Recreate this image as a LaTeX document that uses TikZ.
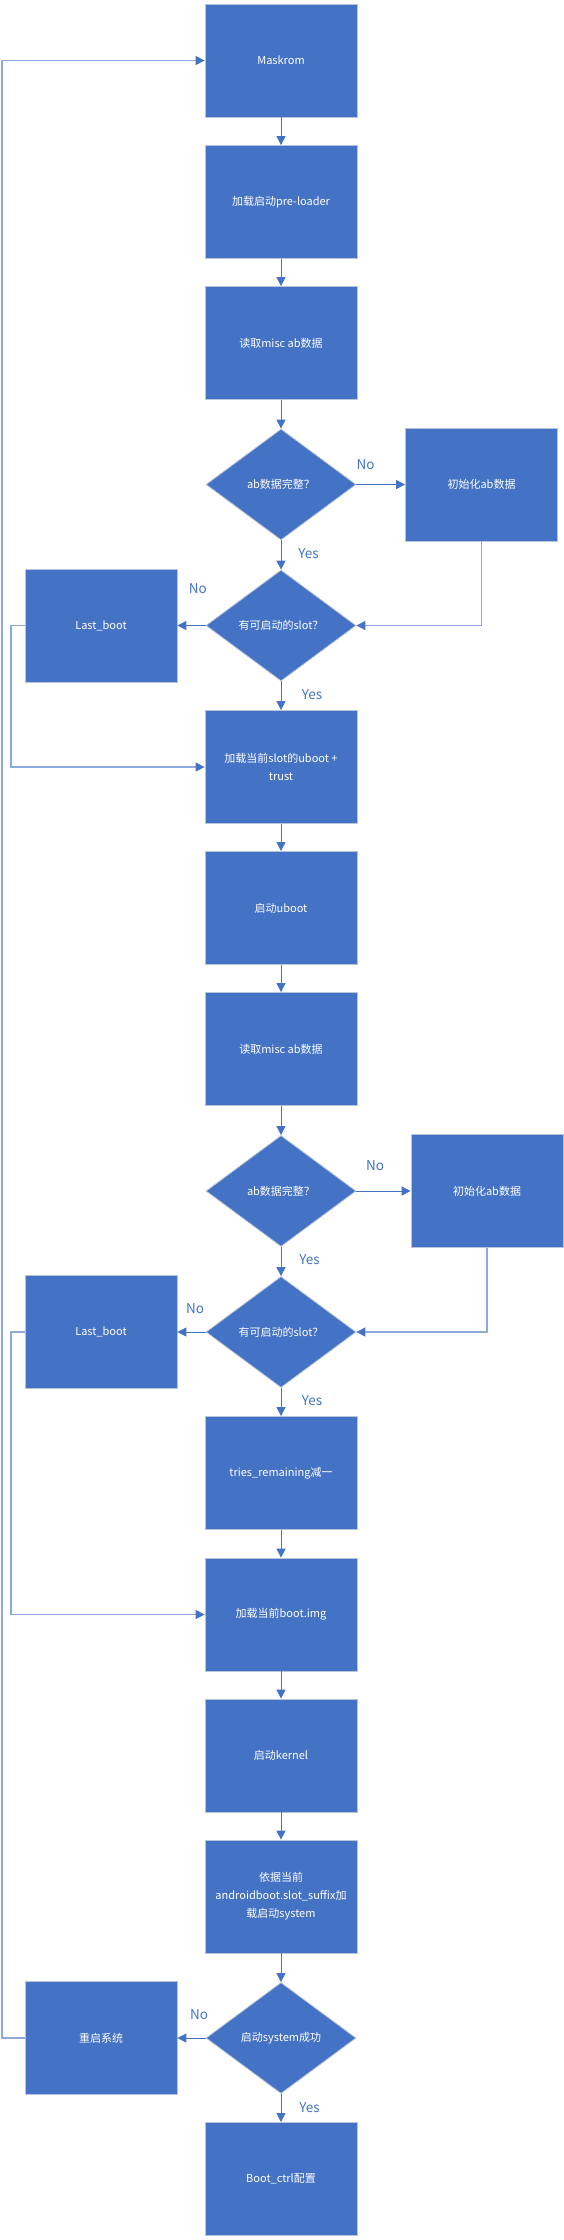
\documentclass[tikz,border=0pt]{standalone}
\usepackage{fontspec}
\setmainfont{Noto Sans CJK SC}
\usetikzlibrary{shapes.geometric,arrows.meta}
\definecolor{boxblue}{HTML}{4472C4}
\definecolor{lineblue}{HTML}{8EA9DB}
\definecolor{edgegray}{HTML}{B9C4DA}
\begin{document}
\begin{tikzpicture}[x=1pt, y=-1pt,
  box/.style={rectangle, fill=boxblue, draw=edgegray, line width=0.8pt, minimum width=152pt, minimum height=113pt, inner sep=2pt, text=white, align=center, font=\fontsize{11}{18}\selectfont},
  ask/.style={diamond, fill=boxblue, draw=edgegray, line width=0.8pt, minimum width=150pt, minimum height=111pt, inner sep=0pt, text=white, font=\fontsize{11}{18}\selectfont},
  flow/.style={draw=boxblue, line width=1pt, -{Triangle[length=9pt,width=9pt]}},
  side/.style={draw=lineblue, line width=1.2pt, -{Triangle[length=9pt,width=9pt,color=boxblue]}},
  ans/.style={text=boxblue, font=\fontsize{13.5}{16}\selectfont}]

\useasboundingbox (0,0) rectangle (563,2240);

\node [box] (mask) at (281,60.5) {Maskrom};
\node [box] (pre) at (281,202) {加载启动pre-loader};
\node [box] (misc1) at (281,343) {读取misc ab数据};
\node [ask] (chk1) at (281,484.5) {ab数据完整？};
\node [box] (init1) at (481.5,484.5) {初始化ab数据};
\node [ask] (slot1) at (281,625.5) {有可启动的slot？};
\node [box] (last1) at (101,625.5) {Last\_boot};
\node [box] (ubt) at (281,767) {加载当前slot的uboot +\\trust};
\node [box] (uboot) at (281,908) {启动uboot};
\node [box] (misc2) at (281,1049) {读取misc ab数据};
\node [ask] (chk2) at (281,1191) {ab数据完整？};
\node [box] (init2) at (487,1191) {初始化ab数据};
\node [ask] (slot2) at (281,1332) {有可启动的slot？};
\node [box] (last2) at (101,1332) {Last\_boot};
\node [box] (tries) at (281,1473) {tries\_remaining减一};
\node [box] (img) at (281,1614.5) {加载当前boot.img};
\node [box] (kern) at (281,1755.5) {启动kernel};
\node [box] (sys) at (281,1896.5) {依据当前\\androidboot.slot\_suffix加\\载启动system};
\node [ask] (ok) at (281,2038) {启动system成功};
\node [box] (reboot) at (101,2038) {重启系统};
\node [box] (ctrl) at (281,2179) {Boot\_ctrl配置};

\coordinate (lx) at (11,0);
\coordinate (ox) at (2,0);

\foreach \a/\b in {mask/pre, pre/misc1, misc1/chk1, chk1/slot1, slot1/ubt, ubt/uboot, uboot/misc2, misc2/chk2, chk2/slot2, slot2/tries, tries/img, img/kern, kern/sys, sys/ok, ok/ctrl}
  \draw [flow] (\a) -- (\b);

\draw [flow] (chk1) -- (init1);
\draw [flow] (slot1) -- (last1);
\draw [side] (init1.south) |- (slot1.east);
\draw [side] (last1.west) -- (last1.west -| lx) |- (ubt.west);
\draw [flow] (chk2) -- (init2);
\draw [flow] (slot2) -- (last2);
\draw [side] (init2.south) |- (slot2.east);
\draw [side] (last2.west) -- (last2.west -| lx) |- (img.west);
\draw [flow] (ok) -- (reboot);
\draw [side] (reboot.west) -- (reboot.west -| ox) |- (mask.west);

\node [ans] (no1) at (365.6,465) {No};
\node [ans] (yes1) at (308.5,554) {Yes};
\node [ans] (no2) at (197.8,589) {No};
\node [ans] (yes2) at (312,695) {Yes};
\node [ans] (no3) at (375,1166) {No};
\node [ans] (yes3) at (309.6,1260) {Yes};
\node [ans] (no4) at (195,1309) {No};
\node [ans] (yes4) at (312,1401) {Yes};
\node [ans] (no5) at (199,2015) {No};
\node [ans] (yes5) at (309.6,2108) {Yes};
\end{tikzpicture}
\end{document}
